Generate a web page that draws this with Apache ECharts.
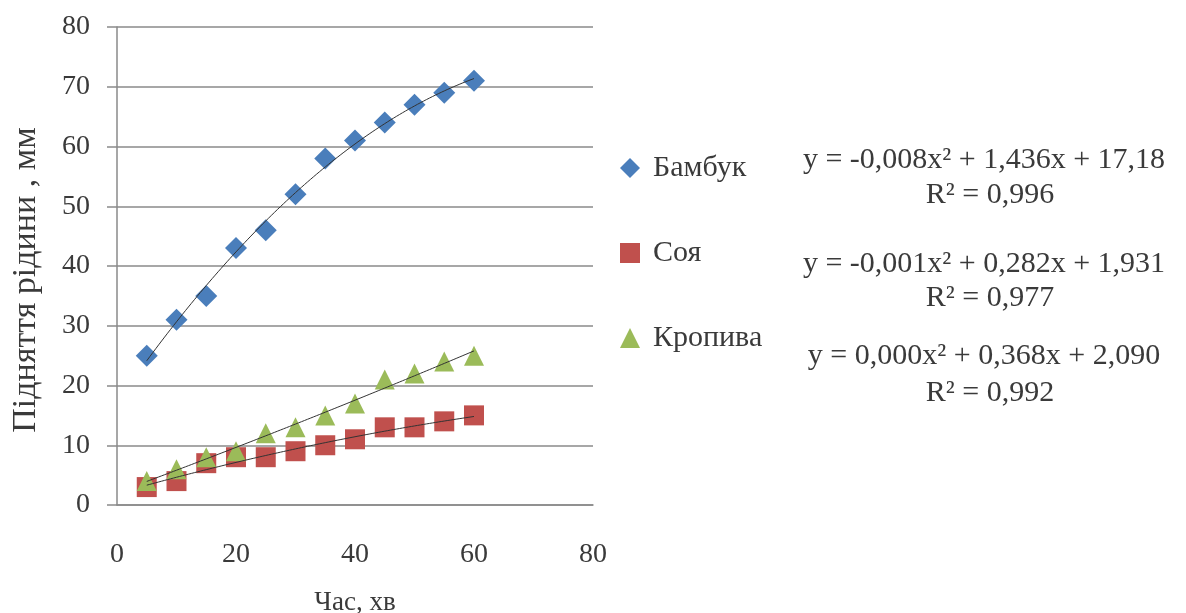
<!DOCTYPE html>
<html>
<head>
<meta charset="utf-8">
<script src="https://cdn.jsdelivr.net/npm/echarts@6/dist/echarts.min.js"></script>
<style>html,body{margin:0;padding:0;background:#fff;}#c{width:1186px;height:613px;}</style>
</head>
<body>
<div id="c"></div>
<script>
const times = [5, 10, 15, 20, 25, 30, 35, 40, 45, 50, 55, 60];
const bamboo = [25, 31, 35, 43, 46, 52, 58, 61, 64, 67, 69, 71];
const soy = [3, 4, 7, 8, 8, 9, 10, 11, 13, 13, 14, 15];
const nettle = [4, 6, 8, 9, 12, 13, 15, 17, 21, 22, 24, 25];
const seriesNames = ['Бамбук', 'Соя', 'Кропива'];
const equations = [
  'y = -0,008x² + 1,436x + 17,18', 'R² = 0,996',
  'y = -0,001x² + 0,282x + 1,931', 'R² = 0,977',
  'y = 0,000x² + 0,368x + 2,090', 'R² = 0,992'
];
const xAxisName = 'Час, хв';
const yAxisName = 'Підняття рідини , мм';

// least-squares quadratic fit (trendline) from data
function quadFit(xs, ys) {
  let S = [0,0,0,0,0], T = [0,0,0];
  for (let i = 0; i < xs.length; i++) {
    let p = 1;
    for (let k = 0; k < 5; k++) { S[k] += p; if (k < 3) T[k] += p * ys[i]; p *= xs[i]; }
  }
  const A = [[S[0],S[1],S[2],T[0]],[S[1],S[2],S[3],T[1]],[S[2],S[3],S[4],T[2]]];
  for (let i = 0; i < 3; i++) {
    for (let j = i + 1; j < 3; j++) {
      const f = A[j][i] / A[i][i];
      for (let k = i; k < 4; k++) A[j][k] -= f * A[i][k];
    }
  }
  const c = [0,0,0];
  for (let i = 2; i >= 0; i--) {
    let s = A[i][3];
    for (let k = i + 1; k < 3; k++) s -= A[i][k] * c[k];
    c[i] = s / A[i][i];
  }
  return c;
}
function trend(ys) {
  const c = quadFit(times, ys);
  const pts = [];
  const x0 = times[0], x1 = times[times.length - 1];
  for (let i = 0; i <= 110; i++) {
    const x = x0 + (x1 - x0) * i / 110;
    pts.push([x, c[0] + c[1] * x + c[2] * x * x]);
  }
  return pts;
}
const pair = ys => times.map((t, i) => [t, ys[i]]);

const font = 'Liberation Serif';
const txt = '#3a3a3a';
const axisGray = '#8a8a8a';
const chart = echarts.init(document.getElementById('c'), null, {renderer: 'canvas'});
const trendStyle = {type: 'line', showSymbol: false, symbol: 'none', silent: true,
  lineStyle: {color: '#333', width: 1}, z: 3, legendHoverLink: false};

const eqPos = [[984, 160], [990, 195], [984, 264], [990, 298], [984, 356], [990, 393]];

chart.setOption({
  animation: false,
  backgroundColor: '#fff',
  grid: {left: 117, right: 593, top: 27, bottom: 108, outerBoundsMode: 'none', containLabel: false},
  legend: {
    data: seriesNames,
    orient: 'vertical',
    left: 615, top: 148,
    itemGap: 55,
    itemWidth: 20, itemHeight: 20,
    textStyle: {fontFamily: font, fontSize: 30, color: txt, padding: [0,0,0,8]}
  },
  xAxis: {
    type: 'value', min: 0, max: 80, interval: 20,
    name: xAxisName, nameLocation: 'middle', nameGap: 84,
    nameTextStyle: {fontFamily: font, fontSize: 27, color: txt},
    axisLine: {show: true, lineStyle: {color: axisGray, width: 1.5}},
    axisTick: {show: false},
    splitLine: {show: false},
    axisLabel: {fontFamily: font, fontSize: 28, color: txt, margin: 36}
  },
  yAxis: {
    type: 'value', min: 0, max: 80, interval: 10,
    axisLine: {show: true, lineStyle: {color: axisGray, width: 1.5}},
    axisTick: {show: true, length: 10, lineStyle: {color: axisGray, width: 1.5}},
    splitLine: {show: true, lineStyle: {color: axisGray, width: 1.5}},
    axisLabel: {fontFamily: font, fontSize: 28, color: txt, margin: 27}
  },
  series: [
    {name: seriesNames[0], type: 'scatter', data: pair(bamboo), symbol: 'diamond', symbolSize: 22,
     itemStyle: {color: '#4a7ebb', opacity: 1}, z: 2},
    {name: seriesNames[1], type: 'scatter', data: pair(soy), symbol: 'rect', symbolSize: 20,
     itemStyle: {color: '#c0504d', opacity: 1}, z: 2},
    {name: seriesNames[2], type: 'scatter', data: pair(nettle), symbol: 'triangle', symbolSize: 20,
     itemStyle: {color: '#9bbb59', opacity: 1}, z: 2},
    Object.assign({name: 't1', data: trend(bamboo)}, trendStyle),
    Object.assign({name: 't2', data: trend(soy)}, trendStyle),
    Object.assign({name: 't3', data: trend(nettle)}, trendStyle)
  ],
  graphic: eqPos.map((p, i) => ({
    type: 'text', x: p[0], y: p[1],
    style: {text: equations[i], fontFamily: font, fontSize: 30, fill: txt,
            align: 'center', verticalAlign: 'middle'}
  })).concat([{
    type: 'text', x: 26, y: 280, rotation: Math.PI / 2,
    style: {text: yAxisName, fontFamily: font, fontSize: 34, fill: txt,
            align: 'center', verticalAlign: 'middle'}
  }])
});
</script>
</body>
</html>
